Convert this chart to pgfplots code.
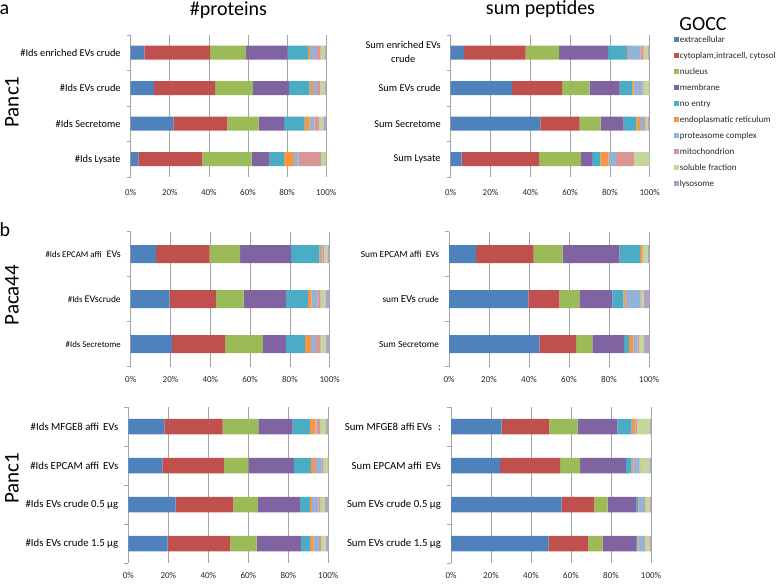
\documentclass[border=0pt]{standalone}
\usepackage{fontspec}
\setmainfont{Carlito}
\usepackage{pgfplots}
\usepackage{pgfplotstable}
\pgfplotsset{compat=1.18}

\definecolor{cExt}{HTML}{4F81BD}
\definecolor{cCyt}{HTML}{C0504D}
\definecolor{cNuc}{HTML}{9BBB59}
\definecolor{cMem}{HTML}{8064A2}
\definecolor{cNoe}{HTML}{4BACC6}
\definecolor{cER}{HTML}{F79646}
\definecolor{cPro}{HTML}{95B3D7}
\definecolor{cMit}{HTML}{D99694}
\definecolor{cSol}{HTML}{C3D69B}
\definecolor{cLys}{HTML}{B2A2C7}
\definecolor{gridgray}{HTML}{A6A6A6}

% GOCC shares (percent), one table per panel
\pgfplotstableread{
row ext cyt nuc mem noe er pro mit sol lys
0 7.0 33.6 18.4 21.3 10.3 1.0 3.1 2.5 2.2 0.6
1 11.9 31.3 19.3 18.4 10.6 1.7 2.1 1.7 2.2 0.8
2 21.8 27.7 15.9 13.1 10.5 2.5 2.4 2.4 2.2 1.5
3 3.9 32.8 25.2 9.1 7.4 5.1 2.4 11.4 2.5 0.2
}\tblTL
\pgfplotstableread{
row ext cyt nuc mem noe er pro mit sol lys
0 6.7 30.9 16.9 24.6 9.5 0.4 6.3 1.7 2.2 0.8
1 30.7 25.3 13.8 15.1 6.2 0.8 4.6 0.5 2.8 0.2
2 45.0 19.8 10.5 11.6 6.4 1.7 1.7 1.0 1.4 0.9
3 5.5 38.8 21.2 5.6 4.1 4.2 3.7 9.0 7.9 0.0
}\tblTR
\pgfplotstableread{
row ext cyt nuc mem noe er pro mit sol lys
0 12.8 26.8 15.4 25.6 14.2 0.8 0.9 0.8 1.5 1.2
1 19.5 23.3 13.9 21.3 11.2 1.7 3.0 1.5 2.4 2.2
2 20.8 26.7 18.9 11.6 9.6 2.9 2.5 2.4 2.5 2.1
}\tblML
\pgfplotstableread{
row ext cyt nuc mem noe er pro mit sol lys
0 13.5 28.8 14.5 28.4 10.3 1.0 0.3 0.3 2.3 0.6
1 39.7 15.5 10.0 16.5 5.5 1.1 7.5 0.5 1.2 2.5
2 45.2 18.3 8.2 15.8 2.5 2.2 2.0 1.0 2.3 2.5
}\tblMR
\pgfplotstableread{
row ext cyt nuc mem noe er pro mit sol lys
0 18.0 29.2 17.8 17.2 8.6 2.9 0.5 1.7 3.0 1.1
1 17.0 31.0 12.0 22.8 8.5 2.0 3.4 0.8 2.0 0.5
2 23.7 28.8 12.3 21.0 5.0 1.0 3.2 1.2 2.1 1.7
3 19.7 31.1 13.4 22.1 4.5 1.7 2.8 1.2 2.2 1.3
}\tblBL
\pgfplotstableread{
row ext cyt nuc mem noe er pro mit sol lys
0 25.3 23.9 14.1 19.9 7.1 1.7 0.2 1.0 6.3 0.5
1 24.5 30.0 10.0 23.0 2.8 0.9 3.0 0.3 4.7 0.8
2 55.3 16.4 6.6 14.5 0.9 0.3 2.5 0.5 2.3 0.7
3 48.7 20.0 7.1 16.7 0.8 0.5 2.7 0.7 2.0 0.8
}\tblBR

\newcommand{\goccbars}[1]{%
  \addplot[fill=cExt] table[x=ext,y=row]{#1};
  \addplot[fill=cCyt] table[x=cyt,y=row]{#1};
  \addplot[fill=cNuc] table[x=nuc,y=row]{#1};
  \addplot[fill=cMem] table[x=mem,y=row]{#1};
  \addplot[fill=cNoe] table[x=noe,y=row]{#1};
  \addplot[fill=cER]  table[x=er,y=row]{#1};
  \addplot[fill=cPro] table[x=pro,y=row]{#1};
  \addplot[fill=cMit] table[x=mit,y=row]{#1};
  \addplot[fill=cSol] table[x=sol,y=row]{#1};
  \addplot[fill=cLys] table[x=lys,y=row]{#1};
}

\pgfplotsset{
  gocc/.style={
    scale only axis,
    anchor=south west,
    xbar stacked,
    y dir=reverse,
    xmin=0, xmax=100,
    xtick={0,20,40,60,80,100},
    xticklabel={\pgfmathprintnumber[assume math mode=true]{\tick}\%},
    xticklabel style={font=\fontsize{9}{10}\selectfont, text=black!85},
    xmajorgrids,
    grid style={gridgray, line width=0.7pt},
    axis x line*=bottom,
    axis y line*=left,
    x axis line style={draw=none},
    y axis line style={gridgray, line width=0.7pt},
    tick align=outside,
    major tick length=0pt,
    minor tick length=4pt,
    minor tick style={gridgray, line width=0.7pt},
    yticklabel style={xshift=-6.5pt},
    every axis plot/.append style={draw=none},
    legend image code/.code={\fill[##1] (0pt,-2.5pt) rectangle (5pt,2.5pt);},
  },
}

\begin{document}
\begin{tikzpicture}[x=1pt,y=1pt]
\path[use as bounding box] (0,0) rectangle (778,583);

% a: Panc1, #proteins
\begin{axis}[gocc, at={(130.7pt,406pt)}, width=195.5pt, height=142pt, bar width=14pt,
  ymin=-0.5, ymax=3.5, ytick={0,1,2,3}, minor ytick={-0.5,0.5,1.5,2.5,3.5},
  yticklabels={{\#Ids enriched EVs crude},{\#Ids EVs crude},{\#Ids Secretome},{\#Ids Lysate}},
  yticklabel style={font=\fontsize{10.4}{14}\selectfont},
  xticklabel style={yshift=-9pt}]
\goccbars{\tblTL}
\end{axis}

% a: Panc1, sum peptides
\begin{axis}[gocc, at={(450.7pt,406pt)}, width=199pt, height=142pt, bar width=14pt,
  ymin=-0.5, ymax=3.5, ytick={0,1,2,3}, minor ytick={-0.5,0.5,1.5,2.5,3.5},
  yticklabels={{\begin{tabular}{@{}c@{}}Sum enriched EVs\\crude\end{tabular}},{Sum EVs crude},{Sum Secretome},{Sum Lysate}},
  yticklabel style={font=\fontsize{10.4}{14}\selectfont},
  xticklabel style={yshift=-9pt},
  legend style={draw=none, fill=none, at={(1,1)}, anchor=north west, xshift=24pt,
    font=\fontsize{9}{10}\selectfont, text=black!85, inner sep=0pt, row sep=6.5pt,
    nodes={inner sep=1pt, text height=6pt, text depth=1.5pt}},
  legend cell align=left]
\goccbars{\tblTR}
\legend{extracellular,{cytoplam,intracell, cytosol},nucleus,membrane,no entry,
  endoplasmatic reticulum,proteasome complex,mitochondrion,soluble fraction,lysosome}
\end{axis}

% b: Paca44, #proteins
\begin{axis}[gocc, at={(130.7pt,216.3pt)}, width=199pt, height=135pt, bar width=18pt,
  ymin=-0.5, ymax=2.5, ytick={0,1,2}, minor ytick={-0.5,0.5,1.5,2.5},
  yticklabels={{\#Ids EPCAM affi\hspace{5pt}{\fontsize{10}{12}\selectfont EVs}},
    {\#Ids {\fontsize{10.2}{12}\selectfont EVs}{\fontsize{9.4}{12}\selectfont crude}},
    {\#Ids Secretome}},
  yticklabel style={font=\fontsize{8.8}{12}\selectfont},
  xticklabel style={yshift=-6pt}]
\goccbars{\tblML}
\end{axis}

% b: Paca44, sum peptides
\begin{axis}[gocc, at={(449pt,216.3pt)}, width=200pt, height=135pt, bar width=18pt,
  ymin=-0.5, ymax=2.5, ytick={0,1,2}, minor ytick={-0.5,0.5,1.5,2.5},
  yticklabels={{Sum EPCAM affi\hspace{4pt}EVs},
    {sum {\fontsize{10.8}{12}\selectfont EVs} {\fontsize{9}{12}\selectfont crude}},
    {Sum Secretome}},
  yticklabel style={font=\fontsize{9.4}{12}\selectfont},
  xticklabel style={yshift=-6pt}]
\goccbars{\tblMR}
\end{axis}

% b: Panc1, #proteins
\begin{axis}[gocc, at={(128.3pt,20pt)}, width=200pt, height=156pt, bar width=15.5pt,
  ymin=-0.5, ymax=3.5, ytick={0,1,2,3}, minor ytick={-0.5,0.5,1.5,2.5,3.5},
  yticklabels={{\#Ids MFGE8 affi\hspace{4pt}EVs\hspace{6pt}},{\#Ids EPCAM affi\hspace{4pt}EVs\hspace{6pt}},
    {\#Ids EVs crude 0.5 µg},{\#Ids EVs crude 1.5 µg}},
  yticklabel style={font=\fontsize{10.8}{13}\selectfont},
  xticklabel style={yshift=-6pt}]
\goccbars{\tblBL}
\end{axis}

% b: Panc1, sum peptides
\begin{axis}[gocc, at={(451pt,20pt)}, width=200pt, height=156pt, bar width=15.5pt,
  ymin=-0.5, ymax=3.5, ytick={0,1,2,3}, minor ytick={-0.5,0.5,1.5,2.5,3.5},
  yticklabels={{Sum MFGE8 affi EVs\hspace{6pt}:},{Sum EPCAM affi\hspace{4pt}EVs\hspace{10pt}},
    {Sum EVs crude 0.5 µg},{Sum EVs crude 1.5 µg}},
  yticklabel style={font=\fontsize{10.8}{13}\selectfont},
  xticklabel style={yshift=-6pt}]
\goccbars{\tblBR}
\end{axis}

% titles and panel labels
\node[font=\fontsize{20}{24}\selectfont] at (228.5,573) {\#proteins};
\node[font=\fontsize{20}{24}\selectfont] at (540.5,573.5) {sum peptides};
\node[font=\fontsize{20}{24}\selectfont] at (703,559) {GOCC};
\node[font=\fontsize{20}{24}\selectfont] at (4.5,573) {a};
\node[font=\fontsize{20}{24}\selectfont] at (5,353) {b};
\node[font=\fontsize{21}{24}\selectfont, rotate=90] at (12,481) {Panc1};
\node[font=\fontsize{21}{24}\selectfont, rotate=90] at (12,288) {Paca44};
\node[font=\fontsize{21}{24}\selectfont, rotate=90] at (12,105) {Panc1};
\end{tikzpicture}
\end{document}
